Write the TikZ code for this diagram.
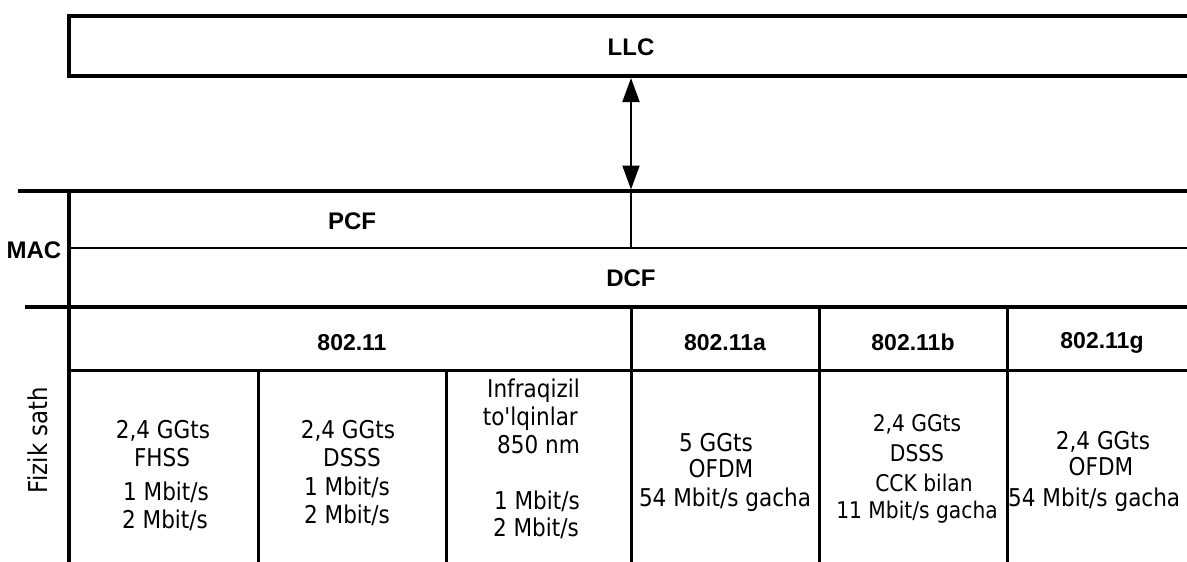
\documentclass[tikz,border=0pt]{standalone}
\usepackage{fontspec}
\setmainfont{Liberation Sans}
\newfontfamily\bodyfont[FakeStretch=0.88]{DejaVu Sans}
\usetikzlibrary{arrows.meta}
\begin{document}
\begin{tikzpicture}[x=1pt,y=-1pt,
  thickln/.style={line width=3.5pt},
  thinln/.style={line width=2.5pt},
  colln/.style={line width=3pt},
  lbl/.style={font=\fontsize{24}{24}\selectfont\bfseries, inner sep=0pt, anchor=base},
  hdr/.style={font=\fontsize{23}{23}\selectfont\bfseries, inner sep=0pt, anchor=base},
  body/.style={font=\bodyfont\fontsize{24.5}{24.5}\selectfont, inner sep=0pt, anchor=base},
  bodysm/.style={font=\bodyfont\fontsize{23}{23}\selectfont, inner sep=0pt, anchor=base},
  bodyr/.style={body, anchor=base east},
  bodyl/.style={body, anchor=base west},
  dblarrow/.style={{Triangle[length=24pt,width=17pt]}-{Triangle[length=24pt,width=17pt]}},
]
\useasboundingbox (0,0) rectangle (1187,562);
\fill[white] (0,0) rectangle (1187,562);
\clip (0,0) rectangle (1187,562);

% LLC box
\node[draw, line width=4pt, minimum width=1160pt, minimum height=60pt,
      anchor=north west, inner sep=0pt, outer sep=0pt] (llcbox) at (69,16) {};
\node[lbl] (llc) at (631,55) {LLC};

% MAC layer
\coordinate (macTL) at (18,191);
\coordinate (macTR) at (1195,191);
\coordinate (midL) at (69,248);
\coordinate (midR) at (1195,248);
\coordinate (macBL) at (25,307);
\coordinate (macBR) at (1195,307);
\coordinate (vtop) at (69,191);
\coordinate (vbot) at (69,562);
\draw[thickln] (macTL) -- (macTR);
\draw[thinln] (midL) -- (midR);
\draw[thickln] (macBL) -- (macBR);
\draw[line width=4pt] (vtop) -- (vbot);

\node[lbl] (pcf) at (352,229) {PCF};
\node[lbl] (mac) at (34,258) {MAC};
\node[lbl] (dcf) at (631,286) {DCF};

% arrow between LLC and MAC
\coordinate (arrbot) at (631,191);
\coordinate (pcfend) at (631,248);
\draw[line width=2pt, dblarrow, shorten <=2pt, shorten >=1.5pt] (llc |- llcbox.south) -- (arrbot);
\draw[line width=2.5pt] (arrbot) -- (pcfend);

% physical layer grid
\coordinate (hdrL) at (69,370);
\coordinate (hdrR) at (1195,370);
\draw[colln] (hdrL) -- (hdrR);
\coordinate (ca) at (631,307);  \coordinate (cab) at (631,562);
\coordinate (cb) at (819,307);  \coordinate (cbb) at (819,562);
\coordinate (cg) at (1007,307); \coordinate (cgb) at (1007,562);
\coordinate (c2) at (258,370);  \coordinate (c2b) at (258,562);
\coordinate (c3) at (446,370);  \coordinate (c3b) at (446,562);
\draw[colln] (ca) -- (cab);
\draw[colln] (cb) -- (cbb);
\draw[colln] (cg) -- (cgb);
\draw[colln] (c2) -- (c2b);
\draw[colln] (c3) -- (c3b);

% headers
\node[hdr] (h0) at (352,350) {802.11};
\node[hdr] (ha) at (725,350) {802.11a};
\node[hdr] (hb) at (913,350) {802.11b};
\node[hdr] (hg) at (1102,348) {802.11g};

% side label
\node[body, font=\bodyfont\fontsize{26}{26}\selectfont, rotate=90] (fiz) at (47,440) {Fizik sath};

% column 1
\node[body] (a1) at (163,438) {2,4 GGts};
\node[body] (a2) at (162,466) {FHSS};
\node[body] (a3) at (166,500) {1 Mbit/s};
\node[body] (a4) at (165,528) {2 Mbit/s};
% column 2
\node[body] (b1) at (348,438) {2,4 GGts};
\node[body] (b2) at (352,466) {DSSS};
\node[body] (b3) at (347,495) {1 Mbit/s};
\node[body] (b4) at (347,523) {2 Mbit/s};
% column 3
\node[bodyr] (d1) at (580,397) {Infraqizil};
\node[bodyr] (d2) at (578,425) {to'lqinlar};
\node[bodyr] (d3) at (580,453) {850 nm};
\node[bodyr] (d4) at (580,509) {1 Mbit/s};
\node[bodyr] (d5) at (579,536) {2 Mbit/s};
% column 4
\node[body] (e1) at (716,451) {5 GGts};
\node[body] (e2) at (721,477) {OFDM};
\node[body] (e3) at (725,506) {54 Mbit/s gacha};
% column 5
\node[bodysm] (f1) at (917,431) {2,4 GGts};
\node[bodysm] (f2) at (917,461) {DSSS};
\node[bodysm] (f3) at (924,491) {CCK bilan};
\node[bodysm] (f4) at (917,518) {11 Mbit/s gacha};
% column 6
\node[body] (g1) at (1103,449) {2,4 GGts};
\node[body] (g2) at (1101,475) {OFDM};
\node[bodyl] (g3) at (1008,506) {54 Mbit/s gacha};
\end{tikzpicture}
\end{document}
